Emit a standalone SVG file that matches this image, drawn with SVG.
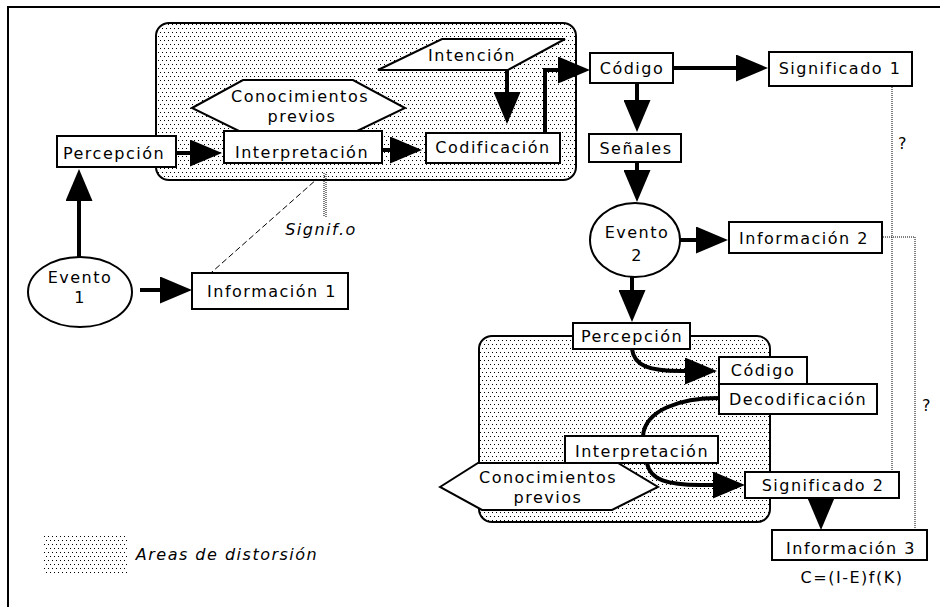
<svg xmlns="http://www.w3.org/2000/svg" width="940" height="607" viewBox="0 0 940 607">
  <defs>
    <pattern id="dots" width="4" height="8" patternUnits="userSpaceOnUse">
      <rect x="0" y="0" width="1" height="1" fill="#000"/>
      <rect x="2" y="4" width="1" height="1" fill="#000"/>
    </pattern>
    <marker id="ah" markerUnits="userSpaceOnUse" markerWidth="32" markerHeight="27" viewBox="0 0 32 27" refX="24" refY="13.5" orient="auto">
      <path d="M0,0 L32,13.5 L0,27 Z" fill="#000"/>
    </marker>
    <style>
      .box { fill: #fff; stroke: #000; stroke-width: 2; }
      .ell { fill: #fff; stroke: #000; stroke-width: 2; }
      .area { fill: url(#dots); stroke: #000; stroke-width: 2; }
      .lbl { font-family: "DejaVu Sans", "Liberation Sans", sans-serif; font-size: 16px; letter-spacing: 1.5px; text-anchor: middle; fill: #000; }
      .it { font-style: italic; }
      .conn { fill: none; stroke: #000; stroke-width: 4; }
      .arr { marker-end: url(#ah); }
      .dot { fill: none; stroke: #000; stroke-width: 1; stroke-dasharray: 1 1; }
      .dash { fill: none; stroke: #000; stroke-width: 1; stroke-dasharray: 6 3; }
    </style>
  </defs>

  <rect width="940" height="607" fill="#fff"/>
  <!-- frame -->
  <path d="M8,607 V7 H940" fill="none" stroke="#000" stroke-width="2"/>

  <!-- distortion areas -->
  <rect id="area-emisor" class="area" x="156" y="23" width="420" height="157" rx="13"/>
  <rect id="area-receptor" class="area" x="479" y="336" width="291" height="186" rx="13"/>

  <!-- connectors -->
  <g id="connectors">
    <path class="conn arr" d="M176,153 H214"/>
    <path class="conn arr" d="M382,150 H414"/>
    <path class="conn arr" d="M507,70 V116"/>
    <path class="conn arr" d="M545,133 V70 H582"/>
    <path class="conn arr" d="M673,68 H760"/>
    <path class="conn arr" d="M637,83 V124"/>
    <path class="conn arr" d="M637,162 V194"/>
    <path class="conn arr" d="M680,240 H720"/>
    <path class="conn arr" d="M632,277 V314"/>
    <path class="conn arr" d="M821,498 V522"/>
    <path class="conn arr" d="M79,257 V177"/>
    <path class="conn arr" d="M140,290 H184"/>
    <path class="conn arr" d="M632,349 C634,366 650,371 680,371 H709"/>
    <path class="conn" d="M719,398 C680,398 645,410 643,436"/>
    <path class="conn arr" d="M647,463 C650,480 668,485 700,485 H737"/>
    <!-- relations between meanings -->
    <path class="dot" d="M892,87 V473"/>
    <path class="dot" d="M883,237 H915 V530"/>
    <path class="dash" d="M195,287 L317,179"/>
    <path class="dot" d="M324,173 V217"/>
    <path class="dot" d="M326,174 V217"/>
  </g>

  <!-- emisor side -->
  <g id="conocimientos-1">
    <polygon class="box" points="192,108 243,80 353,80 405,108 353,133 243,133"/>
    <text class="lbl" x="300" y="102">Conocimientos</text>
    <text class="lbl" x="302" y="122">previos</text>
  </g>
  <g id="percepcion-1">
    <rect class="box" x="57" y="136" width="119" height="31"/>
    <text class="lbl" x="114" y="159">Percepción</text>
  </g>
  <g id="interpretacion-1">
    <rect class="box" x="224" y="131" width="158" height="32"/>
    <text class="lbl" x="302" y="158">Interpretación</text>
  </g>
  <g id="intencion">
    <polygon class="box" points="378,70 442,39 565,39 508,70"/>
    <text class="lbl" x="472" y="61">Intención</text>
  </g>
  <g id="codificacion">
    <rect class="box" x="426" y="133" width="134" height="30"/>
    <text class="lbl" x="493" y="153">Codificación</text>
  </g>
  <g id="codigo-1">
    <rect class="box" x="590" y="53" width="83" height="30"/>
    <text class="lbl" x="632" y="74">Código</text>
  </g>
  <g id="significado-1">
    <rect class="box" x="769" y="52" width="143" height="34"/>
    <text class="lbl" x="840" y="74">Significado 1</text>
  </g>
  <g id="senales">
    <rect class="box" x="589" y="134" width="92" height="28"/>
    <text class="lbl" x="636" y="154">Señales</text>
  </g>
  <g id="evento-1">
    <ellipse class="ell" cx="80" cy="292" rx="52" ry="35"/>
    <text class="lbl" x="80" y="283">Evento</text>
    <text class="lbl" x="80" y="303">1</text>
  </g>
  <g id="informacion-1">
    <rect class="box" x="192" y="273" width="156" height="36"/>
    <text class="lbl" x="272" y="297">Información 1</text>
  </g>
  <g id="signif-o">
    <text class="lbl it" x="321" y="235">Signif.o</text>
  </g>

  <!-- receptor side -->
  <g id="evento-2">
    <ellipse class="ell" cx="635" cy="240" rx="45" ry="37"/>
    <text class="lbl" x="637" y="238">Evento</text>
    <text class="lbl" x="637" y="261">2</text>
  </g>
  <g id="informacion-2">
    <rect class="box" x="729" y="222" width="153" height="31"/>
    <text class="lbl" x="804" y="244">Información 2</text>
  </g>
  <g id="percepcion-2">
    <rect class="box" x="573" y="323" width="117" height="26"/>
    <text class="lbl" x="632" y="342">Percepción</text>
  </g>
  <g id="codigo-2">
    <rect class="box" x="719" y="357" width="88" height="27"/>
    <text class="lbl" x="763" y="376">Código</text>
  </g>
  <g id="decodificacion">
    <rect class="box" x="719" y="384" width="158" height="30"/>
    <text class="lbl" x="798" y="405">Decodificación</text>
  </g>
  <g id="interpretacion-2">
    <rect class="box" x="565" y="436" width="153" height="27"/>
    <text class="lbl" x="642" y="457">Interpretación</text>
  </g>
  <g id="conocimientos-2">
    <polygon class="box" points="440,487 478,463 618,463 658,487 612,510 482,510"/>
    <text class="lbl" x="548" y="483">Conocimientos</text>
    <text class="lbl" x="548" y="503">previos</text>
  </g>
  <g id="significado-2">
    <rect class="box" x="745" y="472" width="154" height="26"/>
    <text class="lbl" x="823" y="491">Significado 2</text>
  </g>
  <g id="informacion-3">
    <rect class="box" x="772" y="530" width="155" height="30"/>
    <text class="lbl" x="851" y="554">Información 3</text>
    <text class="lbl" x="852" y="583">C=(I-E)f(K)</text>
  </g>
  <g id="pregunta-1">
    <text class="lbl" x="903" y="149">?</text>
  </g>
  <g id="pregunta-2">
    <text class="lbl" x="927" y="411">?</text>
  </g>

  <!-- legend -->
  <g id="leyenda">
    <rect x="43" y="533" width="84" height="42" fill="url(#dots)"/>
    <text class="lbl it" x="227" y="560">Areas de distorsión</text>
  </g>
</svg>
